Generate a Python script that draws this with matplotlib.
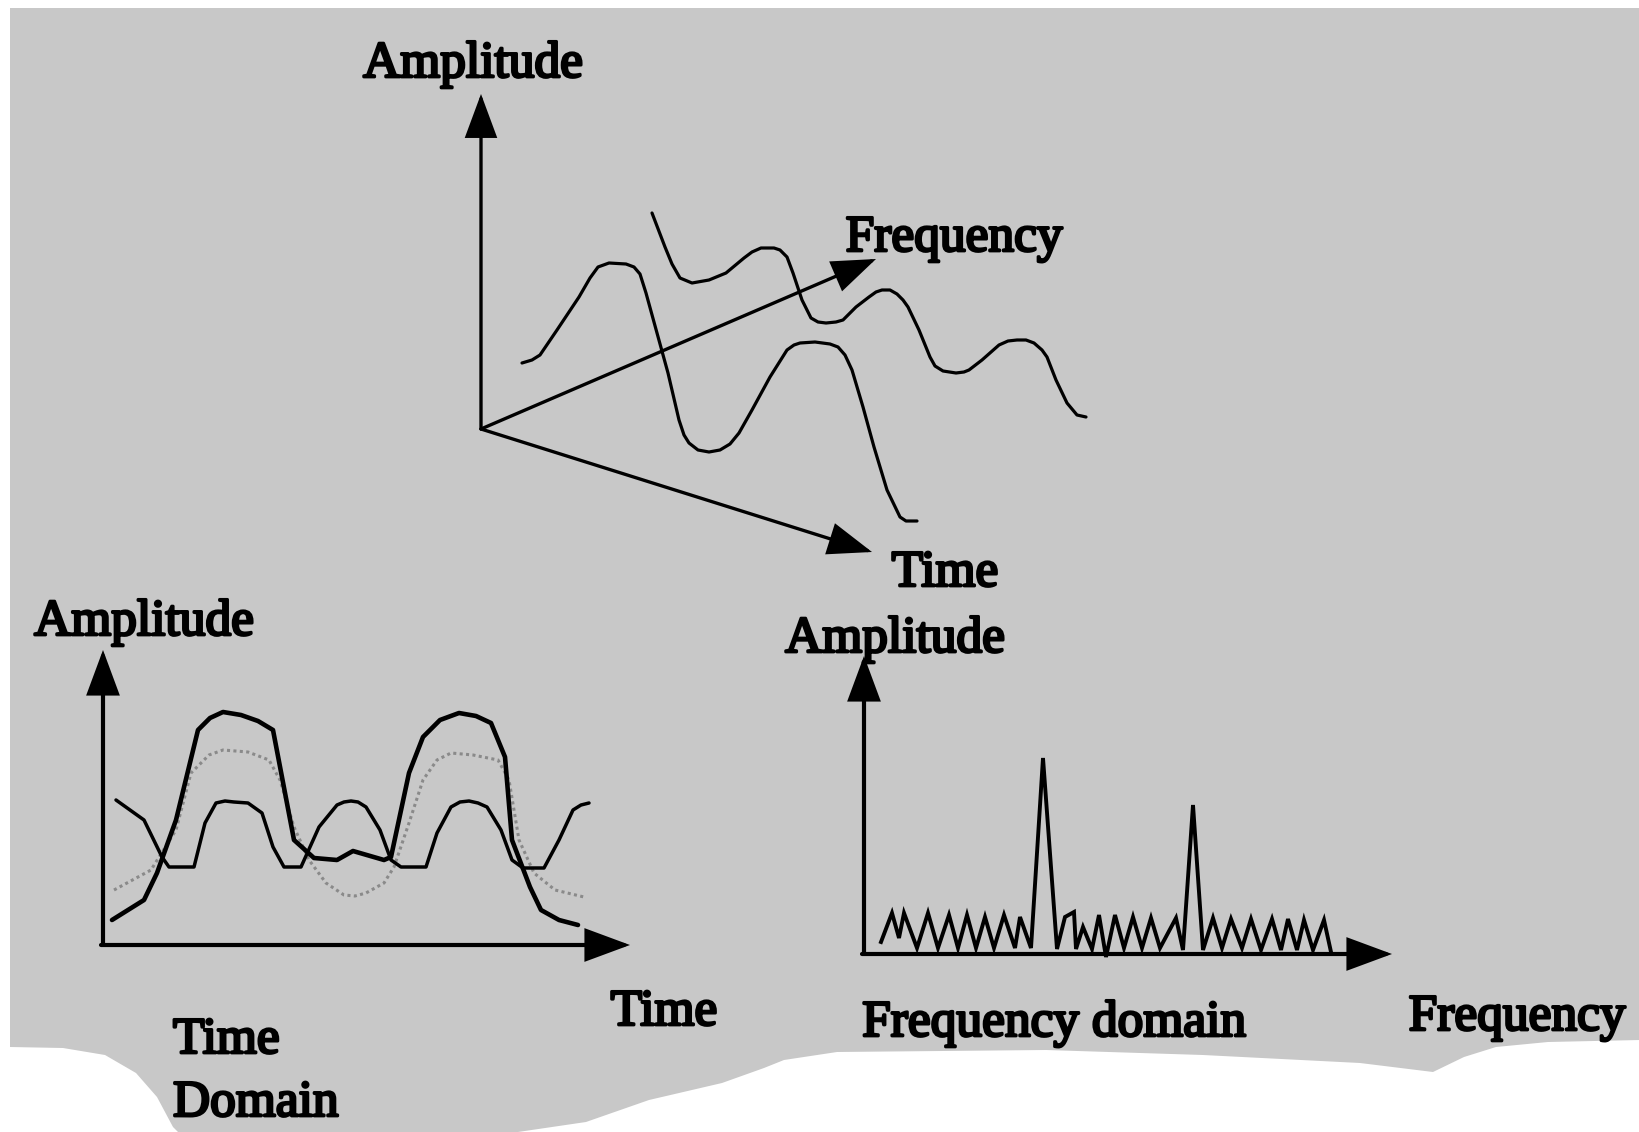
import matplotlib
matplotlib.use('Agg')
import matplotlib.pyplot as plt
import matplotlib.patheffects as pe

plt.rcParams['font.family'] = ['Liberation Serif', 'DejaVu Serif']

# ---- data (picture pixel coordinates) ----
# top sketch: two signals laid along the frequency axis
front_x = [522, 532, 540, 557, 579, 590, 598, 609, 626, 634, 640, 646, 657, 668, 679, 684, 689,
           698, 709, 720, 730, 739, 752, 770, 787, 794, 800, 815, 830, 838, 845, 852, 863, 874,
           887, 900, 906, 917]
front_y = [363, 360, 355, 330, 297, 278, 267, 263, 264, 267, 274, 293, 333, 373, 420, 435, 443,
           450, 452, 450, 444, 433, 410, 377, 350, 345, 343, 342, 344, 347, 355, 370, 407, 447,
           490, 517, 521, 521]
back_x = [652, 665, 672, 680, 692, 709, 726, 744, 752, 761, 774, 780, 787, 793, 802, 811, 818, 826,
          836, 843, 856, 869, 876, 882, 890, 897, 903, 908, 919, 930, 935, 943, 956, 964, 969,
          982, 999, 1008, 1017, 1026, 1034, 1042, 1047, 1056, 1067, 1077, 1086]
back_y = [213, 247, 264, 278, 283, 280, 273, 258, 252, 248, 248, 250, 257, 273, 300, 318, 322, 323,
          322, 320, 307, 297, 292, 290, 290, 294, 300, 307, 330, 357, 366, 371, 373, 372, 370,
          360, 345, 341, 340, 340, 343, 350, 357, 380, 403, 415, 417]

# time domain: sum signal (thick), component 1 (solid), component 2 (dotted)
sum_x = [112, 144, 157, 176, 198, 210, 223, 241, 258, 273, 294, 314, 337, 353, 384, 391, 409, 423,
         440, 459, 476, 491, 505, 512, 530, 541, 559, 578]
sum_y = [920, 900, 873, 820, 730, 718, 712, 715, 721, 730, 840, 858, 860, 851, 860, 857, 773, 737,
         720, 713, 716, 723, 757, 840, 887, 910, 920, 925]
comp1_x = [116, 144, 162, 169, 194, 205, 216, 225, 234, 248, 262, 273, 284, 301, 319, 337, 344, 351,
           358, 366, 380, 391, 401, 426, 437, 451, 460, 469, 478, 487, 501, 512, 523, 544, 559,
           573, 581, 589]
comp1_y = [800, 820, 857, 867, 867, 823, 803, 801, 802, 803, 813, 847, 867, 867, 827, 805, 802, 801,
           802, 807, 830, 860, 867, 867, 833, 807, 802, 801, 803, 807, 830, 860, 868, 868, 840,
           810, 805, 803]
comp2_x = [114, 151, 176, 191, 209, 223, 248, 269, 280, 294, 309, 326, 344, 355, 366, 384, 394, 409,
           423, 437, 451, 473, 498, 509, 519, 534, 555, 584]
comp2_y = [890, 870, 830, 773, 755, 750, 752, 760, 780, 827, 860, 883, 895, 896, 893, 883, 867, 823,
           780, 760, 753, 755, 760, 780, 840, 873, 890, 897]

# frequency domain: noise floor with two spectral lines
spec_x = [881, 892, 899, 904, 917, 928, 938, 949, 958, 967, 976, 985, 994, 1004, 1015, 1020, 1031,
          1043, 1057, 1065, 1074, 1076, 1083, 1092, 1099, 1106, 1115, 1124, 1133, 1142, 1151, 1160,
          1176, 1183, 1193, 1203, 1213, 1222, 1231, 1242, 1251, 1261, 1272, 1281, 1288, 1297, 1304,
          1313, 1324, 1331]
spec_y = [942, 913, 938, 913, 948, 913, 948, 915, 948, 915, 948, 917, 948, 915, 948, 917, 948,
          758, 949, 917, 912, 949, 927, 949, 915, 957, 915, 948, 917, 948, 918, 948,
          918, 950, 805, 950, 918, 948, 919, 948, 919, 950, 919, 950, 919, 950, 920,
          950, 920, 952]

# torn edge of the scanned page
paper_x = [10, 1640, 1640, 1548, 1496, 1464, 1433, 1360, 1203, 1046, 837, 784, 764, 722, 649, 586,
           518, 178, 173, 157, 136, 105, 63, 10]
paper_y = [8, 8, 1040, 1042, 1047, 1057, 1072, 1063, 1055, 1050, 1052, 1060, 1068, 1083, 1100,
           1122, 1132, 1132, 1127, 1097, 1073, 1055, 1048, 1047]

fig = plt.figure(figsize=(16.4, 11.32), dpi=100, facecolor='white')
ax = fig.add_axes([0, 0, 1, 1])
ax.set_xlim(0, 1640)
ax.set_ylim(1132, 0)
ax.axis('off')

ax.fill(paper_x, paper_y, color='#c8c8c8', lw=0, zorder=0)


def arrow(x0, y0, x1, y1, lw=2.8):
    ax.annotate('', xy=(x1, y1), xytext=(x0, y0),
                arrowprops=dict(arrowstyle='-|>,head_length=1.35,head_width=0.5',
                                mutation_scale=20, lw=lw, color='black',
                                shrinkA=0, shrinkB=0, joinstyle='miter'),
                zorder=3)


line = dict(color='black', solid_joinstyle='round', solid_capstyle='round', zorder=2)

# top sketch
arrow(481, 429, 481, 94, lw=2.4)
arrow(481, 429, 876, 259, lw=2.4)
arrow(481, 429, 872, 552, lw=2.4)
ax.plot(front_x, front_y, lw=2.3, **line)
ax.plot(back_x, back_y, lw=2.3, **line)

# time domain
ax.plot(comp2_x, comp2_y, color='#8a8a8a', lw=2.2, ls=(0, (1, 1.1)), zorder=2)
ax.plot(comp1_x, comp1_y, lw=2.5, **line)
ax.plot(sum_x, sum_y, lw=3.3, **line)
arrow(103, 945, 103, 650, lw=3.0)
arrow(101, 945, 630, 945, lw=3.0)

# frequency domain
ax.plot(spec_x, spec_y, lw=2.8, color='black', solid_joinstyle='miter', zorder=2)
arrow(864, 954, 864, 656, lw=3.0)
arrow(862, 954, 1392, 954, lw=3.0)

txt = dict(fontsize=37, color='black', va='baseline',
           path_effects=[pe.withStroke(linewidth=2.0, foreground='black')])
ax.text(473, 77, 'Amplitude', ha='center', **txt)
ax.text(954, 251, 'Frequency', ha='center', **txt)
ax.text(945, 586, 'Time', ha='center', **txt)
ax.text(144, 635, 'Amplitude', ha='center', **txt)
ax.text(664, 1025, 'Time', ha='center', **txt)
ax.text(173, 1053, 'Time', ha='left', **txt)
ax.text(173, 1116, 'Domain', ha='left', **txt)
ax.text(895, 652, 'Amplitude', ha='center', **txt)
ax.text(1054, 1036, 'Frequency domain', ha='center', **txt)
ax.text(1517, 1030, 'Frequency', ha='center', **txt)

fig.savefig('out.png', dpi=100, facecolor='white')
